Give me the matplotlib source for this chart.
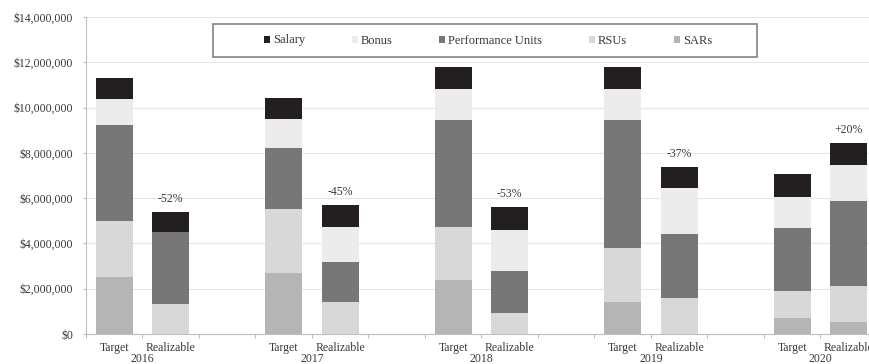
import numpy as np
import matplotlib
matplotlib.use("Agg")
import matplotlib.pyplot as plt
from matplotlib.patches import Patch, Rectangle

plt.rcParams['font.family'] = ['Liberation Serif', 'DejaVu Serif']

# Pay components in $ millions, bottom of the stack first
years = ['2016', '2017', '2018', '2019', '2020']
components = ['SARs', 'RSUs', 'Performance Units', 'Bonus', 'Salary']
colors = ['#b5b5b5', '#d8d8d8', '#777777', '#ececec', '#231f20']

sars_target = [2.50, 2.71, 2.39, 1.43, 0.72]
rsus_target = [2.50, 2.80, 2.35, 2.36, 1.18]
perf_target = [4.23, 2.72, 4.71, 5.66, 2.80]
bonus_target = [1.15, 1.27, 1.36, 1.36, 1.37]
salary_target = [0.94, 0.91, 1.00, 1.00, 1.00]

sars_real = [0.00, 0.00, 0.00, 0.00, 0.54]
rsus_real = [1.31, 1.43, 0.91, 1.58, 1.58]
perf_real = [3.18, 1.76, 1.89, 2.82, 3.77]
bonus_real = [0.00, 1.55, 1.79, 2.03, 1.57]
salary_real = [0.91, 0.96, 1.01, 0.96, 0.99]

target = np.array([sars_target, rsus_target, perf_target, bonus_target, salary_target]) * 1e6
realizable = np.array([sars_real, rsus_real, perf_real, bonus_real, salary_real]) * 1e6

TEXT = '#383838'
W, H = 870, 364
fig = plt.figure(figsize=(W / 100, H / 100), dpi=100)
# one empty category slot between years; right edge runs off the canvas
ax = fig.add_axes([86 / W, 30 / H, 791 / W, 317 / H])

x_target = np.arange(len(years)) * 3
x_real = x_target + 1
width = 0.655

bottom_t = np.zeros(len(years))
bottom_r = np.zeros(len(years))
for i, (name, col) in enumerate(zip(components, colors)):
    ax.bar(x_target, target[i], width, bottom=bottom_t, color=col, zorder=3)
    ax.bar(x_real, realizable[i], width, bottom=bottom_r, color=col, zorder=3)
    bottom_t += target[i]
    bottom_r += realizable[i]

# change of realizable vs target pay
for xr, tot_t, tot_r in zip(x_real, bottom_t, bottom_r):
    pct = (tot_r / tot_t - 1) * 100
    ax.annotate(f'{pct:+.0f}%' if pct > 0 else f'{pct:.0f}%', (xr, tot_r),
                xytext=(0, 5), textcoords='offset points',
                ha='center', va='bottom', fontsize=8.5, color=TEXT)

ax.set_xlim(-0.5, 13.5)
ax.set_ylim(0, 14e6)
ax.set_yticks(np.arange(0, 14e6 + 1, 2e6))
ax.set_yticklabels([f'${v:,.0f}' for v in np.arange(0, 14e6 + 1, 2e6)])
ax.yaxis.grid(True, color='#e6e6e6', linewidth=0.8, zorder=0)
ax.tick_params(axis='y', length=2.2, width=0.8, color='#bfbfbf', pad=7,
               labelsize=8.5, labelcolor=TEXT)

# category ticks between slots, labels at slot centers
ax.set_xticks(np.arange(-0.5, 14, 1))
ax.set_xticklabels([])
ax.tick_params(axis='x', which='major', length=3, width=0.8, color='#bfbfbf')
slots = np.concatenate([x_target, x_real])
ax.set_xticks(slots, minor=True)
ax.set_xticklabels(['Target'] * len(years) + ['Realizable'] * len(years), minor=True)
ax.tick_params(axis='x', which='minor', length=0, pad=6, labelsize=8.5,
               labelcolor=TEXT)

for xt, yr in zip(x_target + 0.5, years):
    xf = ax.transData.transform((xt, 0))[0]
    fig.text(xf / W, (H - 352.5) / H, yr, ha='center', va='top', fontsize=8.5, color=TEXT)

for side in ['top', 'right']:
    ax.spines[side].set_visible(False)
for side in ['left', 'bottom']:
    ax.spines[side].set_color('#bfbfbf')
    ax.spines[side].set_linewidth(0.8)

# legend, Salary first
order = [4, 3, 2, 1, 0]
handles = [Patch(facecolor=colors[i], label=components[i]) for i in order]
fig.patches.append(Rectangle((213 / W, (H - 57) / H), 544 / W, 33 / H,
                             transform=fig.transFigure, facecolor='white',
                             edgecolor='#8c8c8c', linewidth=1.3, zorder=5))
leg = fig.legend(handles=handles, loc='center', bbox_to_anchor=(488 / W, (H - 40.5) / H),
                 ncol=5, frameon=False, fontsize=9, handlelength=0.5, handleheight=0.5,
                 handletextpad=0.25, columnspacing=3.7, labelcolor=TEXT)
leg.set_zorder(6)

fig.savefig('out.png', dpi=100)
